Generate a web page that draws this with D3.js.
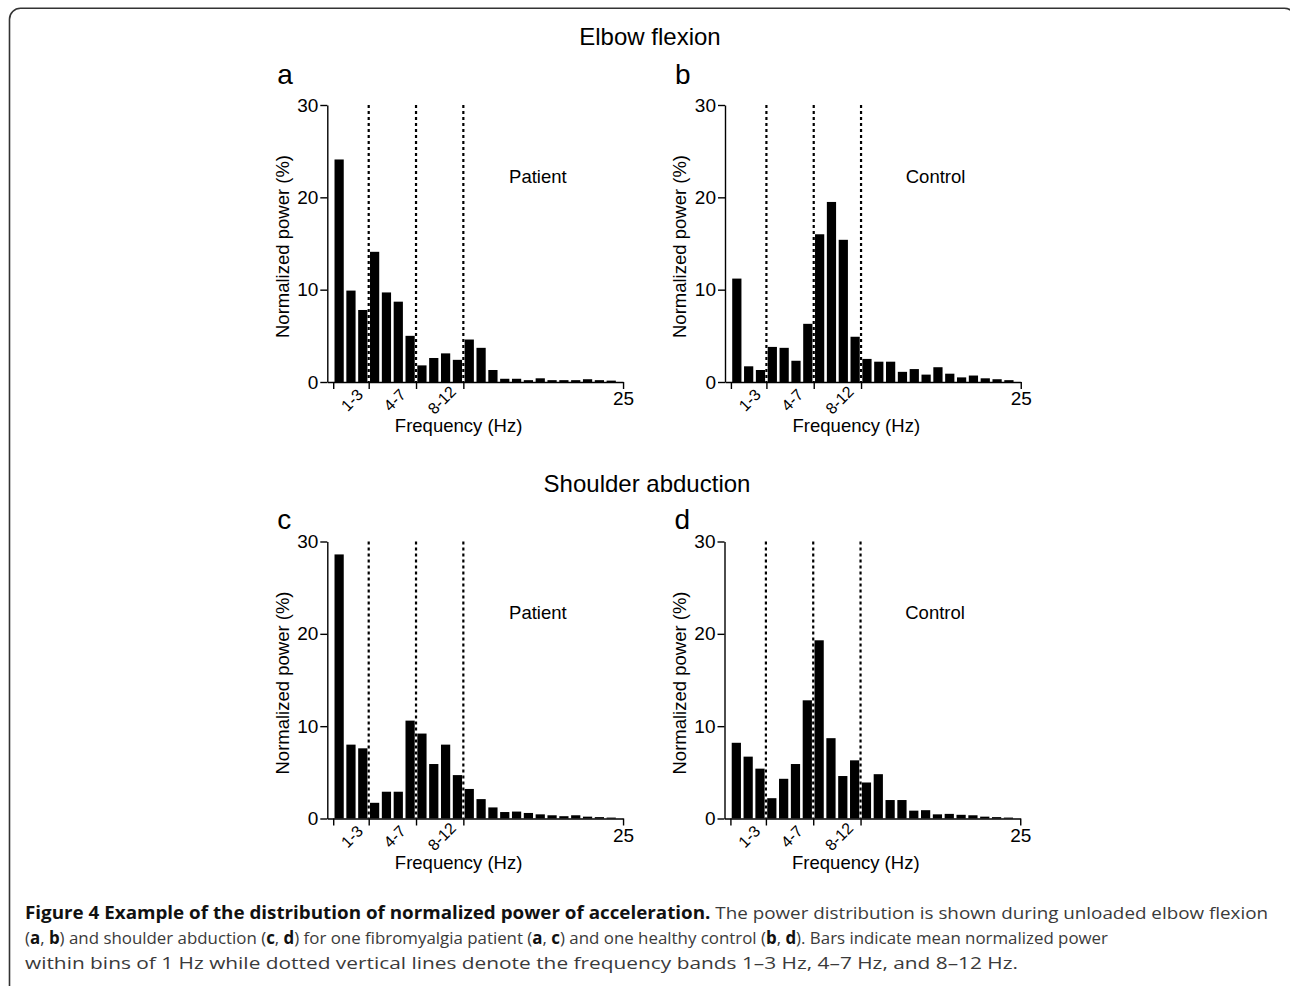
<!DOCTYPE html>
<html>
<head>
<meta charset="utf-8">
<script src="https://cdn.jsdelivr.net/npm/d3@7"></script>
<style>
  html, body { margin: 0; padding: 0; background: #fff; }
  svg { display: block; }
</style>
</head>
<body>
<svg id="fig" width="1290" height="986"></svg>
<script>
// ---------------- data ----------------
const bins = [1,2,3,4,5,6,7,8,9,10,11,12,13,14,15,16,17,18,19,20,21,22,23,24];
const elbowPatient    = [24.1, 9.9, 7.8, 14.1, 9.7, 8.7, 5.0, 1.8, 2.6, 3.1, 2.4, 4.6, 3.7, 1.3, 0.35, 0.35, 0.2, 0.4, 0.2, 0.2, 0.2, 0.3, 0.2, 0.15];
const elbowControl    = [11.2, 1.7, 1.3, 3.8, 3.7, 2.3, 6.3, 16.0, 19.5, 15.4, 4.9, 2.5, 2.2, 2.2, 1.1, 1.4, 0.8, 1.6, 0.9, 0.5, 0.7, 0.4, 0.3, 0.2];
const shoulderPatient = [28.6, 8.0, 7.6, 1.7, 2.9, 2.9, 10.6, 9.2, 5.9, 8.0, 4.7, 3.2, 2.1, 1.2, 0.7, 0.75, 0.6, 0.45, 0.35, 0.25, 0.35, 0.2, 0.15, 0.1];
const shoulderControl = [8.2, 6.7, 5.4, 2.2, 4.3, 5.9, 12.8, 19.3, 8.7, 4.6, 6.3, 3.9, 4.8, 2.0, 2.0, 0.85, 0.9, 0.45, 0.5, 0.4, 0.35, 0.2, 0.15, 0.1];
const bandEdges = [3.5, 7.5, 11.5];
const bandLabels = ["1-3", "4-7", "8-12"];
const bandCenters = [2, 5.6, 9.6];
const yTicks = [0, 10, 20, 30];
const xTicks = [0.5, 3.5, 7.5, 11.5, 25];
const xTickLabels = ["", "", "", "", "25"];
const sectionTitles = ["Elbow flexion", "Shoulder abduction"];
const panelLetters = ["a", "b", "c", "d"];
const groupNames = ["Patient", "Control", "Patient", "Control"];
const xAxisTitle = "Frequency (Hz)";
const yAxisTitle = "Normalized power (%)";

// ---------------- layout ----------------
const svg = d3.select("#fig");
const FONT = "'Liberation Sans', Arial, Helvetica, sans-serif";
const binPx = 11.83;
const plotW = binPx * 25;
const plotH = 277;
const panelDefs = [
  { x0: 327.3, yTop: 105,   values: elbowPatient,    letterDy: -21 },
  { x0: 725.0, yTop: 105,   values: elbowControl,    letterDy: -21 },
  { x0: 327.3, yTop: 541.5, values: shoulderPatient, letterDy: -13 },
  { x0: 724.5, yTop: 541.5, values: shoulderControl, letterDy: -13 }
];

// frame
svg.append("rect")
  .attr("x", 9.5).attr("y", 8.3)
  .attr("width", 1286).attr("height", 1100)
  .attr("rx", 11).attr("ry", 11)
  .attr("fill", "none").attr("stroke", "#333").attr("stroke-width", 1.6);

// section titles
svg.append("text").attr("x", 650).attr("y", 45)
  .attr("text-anchor", "middle").attr("font-family", FONT).attr("font-size", 24)
  .text(sectionTitles[0]);
svg.append("text").attr("x", 647).attr("y", 492)
  .attr("text-anchor", "middle").attr("font-family", FONT).attr("font-size", 24)
  .text(sectionTitles[1]);

panelDefs.forEach((p, i) => {
  const x = d3.scaleLinear().domain([0, 25]).range([p.x0, p.x0 + plotW]);
  const y = d3.scaleLinear().domain([0, 30]).range([p.yTop + plotH, p.yTop]);
  const g = svg.append("g");

  // bars
  g.selectAll("rect.bar").data(bins).enter().append("rect")
    .attr("class", "bar")
    .attr("x", d => x(d - 0.39))
    .attr("width", x(0.78) - x(0))
    .attr("y", (d, j) => y(p.values[j]))
    .attr("height", (d, j) => y(0) - y(p.values[j]))
    .attr("fill", "#000");

  // dotted band lines
  g.selectAll("line.band").data(bandEdges).enter().append("line")
    .attr("x1", d => x(d)).attr("x2", d => x(d))
    .attr("y1", y(30)).attr("y2", y(0))
    .attr("stroke", "#000").attr("stroke-width", 2.2)
    .attr("stroke-dasharray", "3,3");

  // y axis
  const yAxis = d3.axisLeft(y).tickValues(yTicks).tickSize(7).tickSizeOuter(0).tickPadding(2);
  const ya = g.append("g").attr("transform", `translate(${x(0)},0)`).call(yAxis);
  ya.selectAll("text").attr("font-family", FONT).attr("font-size", 19).attr("fill", "#000");
  ya.selectAll("line,path").attr("stroke", "#000").attr("stroke-width", 1.4);

  // x axis
  const xAxis = d3.axisBottom(x).tickValues(xTicks).tickSize(7).tickSizeOuter(0).tickPadding(3)
    .tickFormat((d, k) => xTickLabels[k]);
  const xa = g.append("g").attr("transform", `translate(0,${y(0)})`).call(xAxis);
  xa.selectAll("text").attr("font-family", FONT).attr("font-size", 19).attr("fill", "#000");
  xa.selectAll("line,path").attr("stroke", "#000").attr("stroke-width", 1.4);

  // band labels (rotated)
  g.selectAll("text.bandlab").data(bandLabels).enter().append("text")
    .attr("class", "bandlab")
    .attr("transform", (d, k) => `translate(${x(bandCenters[k]) + 1},${y(0) + 18}) rotate(-45)`)
    .attr("text-anchor", "middle").attr("dy", "0.35em")
    .attr("font-family", FONT).attr("font-size", 16)
    .text(d => d);

  // axis titles
  g.append("text")
    .attr("x", x(11.1)).attr("y", y(0) + 50)
    .attr("text-anchor", "middle").attr("font-family", FONT).attr("font-size", 18.5)
    .text(xAxisTitle);
  g.append("text")
    .attr("transform", `translate(${x(0) - 45},${(y(0) + y(30)) / 2 + 3}) rotate(-90)`)
    .attr("text-anchor", "middle").attr("dy", "0.35em")
    .attr("font-family", FONT).attr("font-size", 18.5)
    .text(yAxisTitle);

  // group name
  g.append("text")
    .attr("x", x(17.8)).attr("y", y(21.6))
    .attr("text-anchor", "middle").attr("font-family", FONT).attr("font-size", 18.5)
    .text(groupNames[i]);

  // panel letter
  g.append("text")
    .attr("x", x(0) - 50).attr("y", p.yTop + p.letterDy)
    .attr("font-family", FONT).attr("font-size", 28)
    .text(panelLetters[i]);
});

// caption
const CAP = "'Open Sans', 'Noto Sans', sans-serif";
const cap = svg.append("g").attr("font-family", CAP).attr("font-size", 17);
const l1 = cap.append("text").attr("x", 25).attr("y", 919)
  .attr("textLength", 1243).attr("lengthAdjust", "spacingAndGlyphs");
l1.append("tspan").attr("font-weight", "bold").attr("fill", "#111")
  .text("Figure 4 Example of the distribution of normalized power of acceleration.");
l1.append("tspan").attr("fill", "#3a3a3a")
  .text(" The power distribution is shown during unloaded elbow flexion");

const l2 = cap.append("text").attr("x", 25).attr("y", 944).attr("fill", "#3a3a3a")
  .attr("textLength", 1083).attr("lengthAdjust", "spacingAndGlyphs");
const parts2 = [["(",0],["a",1],[", ",0],["b",1],[") and shoulder abduction (",0],["c",1],[", ",0],["d",1],
  [") for one fibromyalgia patient (",0],["a",1],[", ",0],["c",1],[") and one healthy control (",0],["b",1],[", ",0],["d",1],
  ["). Bars indicate mean normalized power",0]];
parts2.forEach(([t, b]) => l2.append("tspan").attr("font-weight", b ? "bold" : "normal").attr("fill", b ? "#111" : "#3a3a3a").text(t));

cap.append("text").attr("x", 25).attr("y", 969).attr("fill", "#3a3a3a")
  .attr("textLength", 993).attr("lengthAdjust", "spacingAndGlyphs")
  .text("within bins of 1 Hz while dotted vertical lines denote the frequency bands 1\u20133 Hz, 4\u20137 Hz, and 8\u201312 Hz.");
</script>
</body>
</html>
